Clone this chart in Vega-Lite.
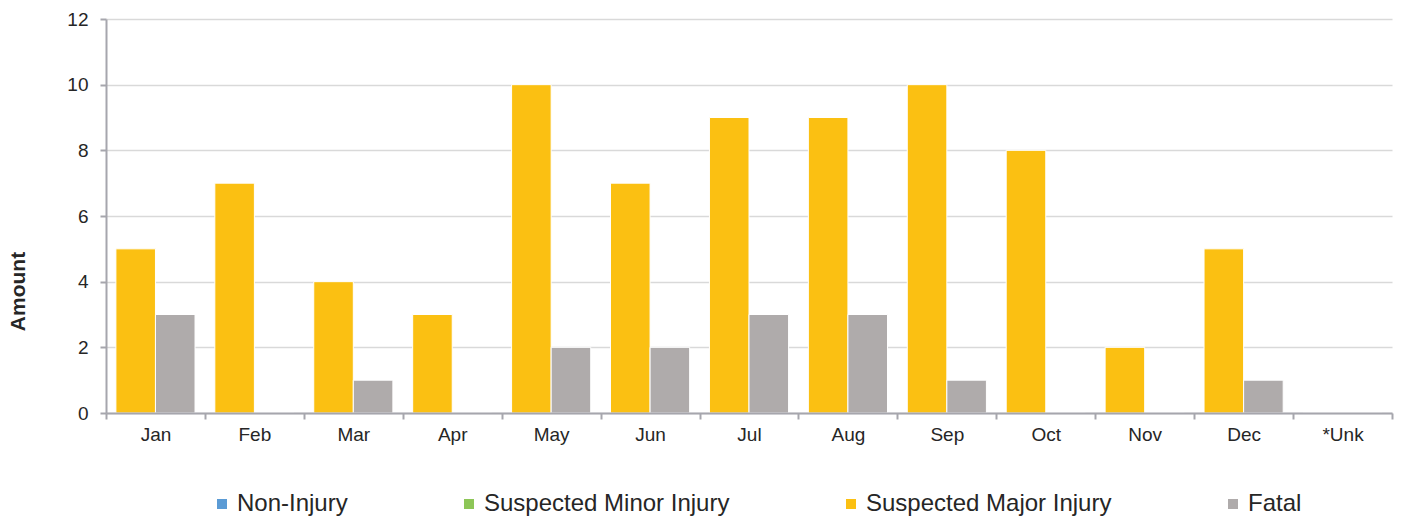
{
  "$schema": "https://vega.github.io/schema/vega-lite/v6.json",
  "width": 1286,
  "height": 394,
  "autosize": {"type": "none"},
  "padding": {"left": 106, "top": 19, "right": 9, "bottom": 105},
  "background": "white",
  "config": {
    "view": {"stroke": null},
    "font": "Liberation Sans",
    "axis": {"labelFont": "Liberation Sans", "titleFont": "Liberation Sans"},
    "legend": {"labelFont": "Liberation Sans"}
  },
  "data": {
    "values": [
      {"month": "Jan", "type": "Suspected Major Injury", "amount": 5},
      {"month": "Jan", "type": "Fatal", "amount": 3},
      {"month": "Feb", "type": "Suspected Major Injury", "amount": 7},
      {"month": "Feb", "type": "Fatal", "amount": 0},
      {"month": "Mar", "type": "Suspected Major Injury", "amount": 4},
      {"month": "Mar", "type": "Fatal", "amount": 1},
      {"month": "Apr", "type": "Suspected Major Injury", "amount": 3},
      {"month": "Apr", "type": "Fatal", "amount": 0},
      {"month": "May", "type": "Suspected Major Injury", "amount": 10},
      {"month": "May", "type": "Fatal", "amount": 2},
      {"month": "Jun", "type": "Suspected Major Injury", "amount": 7},
      {"month": "Jun", "type": "Fatal", "amount": 2},
      {"month": "Jul", "type": "Suspected Major Injury", "amount": 9},
      {"month": "Jul", "type": "Fatal", "amount": 3},
      {"month": "Aug", "type": "Suspected Major Injury", "amount": 9},
      {"month": "Aug", "type": "Fatal", "amount": 3},
      {"month": "Sep", "type": "Suspected Major Injury", "amount": 10},
      {"month": "Sep", "type": "Fatal", "amount": 1},
      {"month": "Oct", "type": "Suspected Major Injury", "amount": 8},
      {"month": "Oct", "type": "Fatal", "amount": 0},
      {"month": "Nov", "type": "Suspected Major Injury", "amount": 2},
      {"month": "Nov", "type": "Fatal", "amount": 0},
      {"month": "Dec", "type": "Suspected Major Injury", "amount": 5},
      {"month": "Dec", "type": "Fatal", "amount": 1},
      {"month": "*Unk", "type": "Suspected Major Injury", "amount": 0},
      {"month": "*Unk", "type": "Fatal", "amount": 0}
    ]
  },
  "mark": {"type": "bar", "stroke": "white", "strokeWidth": 1},
  "encoding": {
    "x": {
      "field": "month",
      "type": "nominal",
      "sort": ["Jan", "Feb", "Mar", "Apr", "May", "Jun", "Jul", "Aug", "Sep", "Oct", "Nov", "Dec", "*Unk"],
      "scale": {"paddingInner": 0, "paddingOuter": 0},
      "axis": {
        "title": null,
        "labelAngle": 0,
        "labelFontSize": 19,
        "labelColor": "#262626",
        "labelPadding": 6,
        "tickBand": "extent",
        "tickSize": 6,
        "tickColor": "#A6A6AD",
        "tickWidth": 2,
        "domainColor": "#A6A6AD",
        "domainWidth": 2,
        "grid": false,
        "zindex": 1
      }
    },
    "xOffset": {
      "field": "type",
      "type": "nominal",
      "sort": ["Suspected Major Injury", "Fatal"],
      "scale": {"domain": ["Suspected Major Injury", "Fatal"], "paddingInner": 0, "paddingOuter": 0.25}
    },
    "y": {
      "field": "amount",
      "type": "quantitative",
      "scale": {"domain": [0, 12], "nice": false},
      "axis": {
        "values": [0, 2, 4, 6, 8, 10, 12],
        "title": "Amount",
        "titleFontSize": 21,
        "titleFontWeight": "bold",
        "titleColor": "#262626",
        "titleAngle": 270,
        "titleAlign": "center",
        "titleBaseline": "middle",
        "titleX": -88,
        "titleY": 272,
        "labelFontSize": 19,
        "labelColor": "#262626",
        "labelPadding": 12,
        "tickSize": 6,
        "tickColor": "#A6A6AD",
        "tickWidth": 2,
        "domainColor": "#A6A6AD",
        "domainWidth": 2,
        "gridColor": "#D9D9D9",
        "gridWidth": 1.5,
        "zindex": 0
      }
    },
    "color": {
      "field": "type",
      "type": "nominal",
      "scale": {
        "domain": ["Non-Injury", "Suspected Minor Injury", "Suspected Major Injury", "Fatal"],
        "range": ["#5B9BD5", "#8DC657", "#FBC012", "#AFABAB"]
      },
      "legend": {
        "title": null,
        "orient": "none",
        "direction": "horizontal",
        "legendX": 104,
        "legendY": 473,
        "symbolType": "square",
        "symbolSize": 100,
        "symbolStrokeWidth": 0,
        "labelFontSize": 24,
        "labelLimit": 0,
        "labelColor": "#262626",
        "labelOffset": 3,
        "columnPadding": 109,
        "padding": 0
      }
    }
  }
}
